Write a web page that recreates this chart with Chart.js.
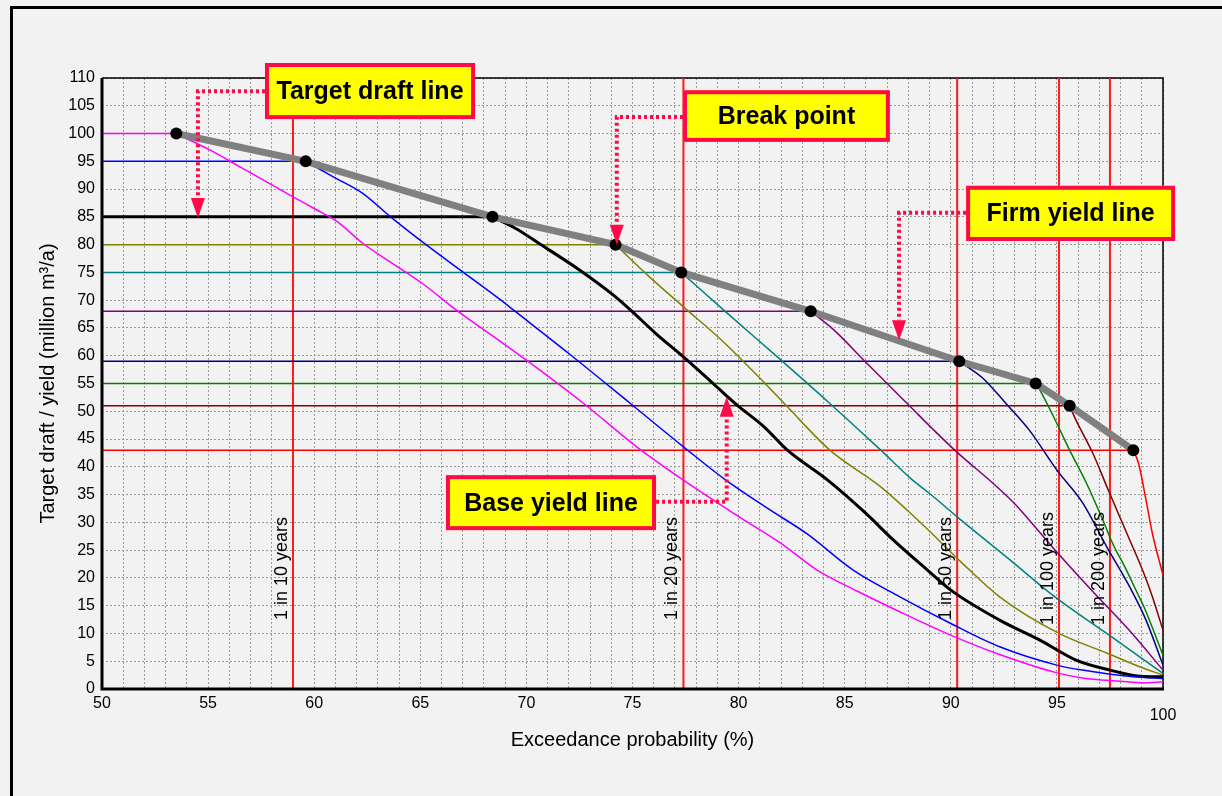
<!DOCTYPE html>
<html>
<head>
<meta charset="utf-8">
<title>Yield curves</title>
<script src="https://cdn.jsdelivr.net/npm/chart.js@4.4.1/dist/chart.umd.min.js"></script>
<style>
  html, body { margin: 0; padding: 0; background: #f2f2f2; overflow: hidden; }
  #frame { position: absolute; left: 10px; top: 6px; width: 1400px; height: 1000px;
           border-left: 3px solid #000; border-top: 3px solid #000; }
  #wrap { position: absolute; left: 0; top: 0; width: 1222px; height: 796px; }
</style>
</head>
<body>
<div id="frame"></div>
<div id="wrap"><canvas id="yieldChart" width="1222" height="796"></canvas></div>
<script>
// target drafts (million m3/a) and the exceedance probability where each breaks off
const drafts = [100, 95, 85, 80, 75, 68, 59, 55, 51, 43];
const breakProb = [53.5, 59.6, 68.4, 74.2, 77.3, 83.4, 90.4, 94.0, 95.6, 98.6];

// falling part of each curve after its break point
const prob100 = [55.1, 56.5, 57.9, 59.0, 60.0, 61.1, 62.3, 63.7, 65.1, 66.7, 68.8, 70.0, 72.7, 75.2, 77.4, 80.1, 82.0, 83.7, 85.6, 87.6, 90.3, 92.3, 95.0, 96.2, 98.0, 99.1, 100];
const yield100 = [97.0, 94.0, 91.0, 88.6, 86.5, 84.1, 80.2, 76.6, 73.0, 68.2, 62.5, 59.2, 51.4, 43.6, 37.6, 30.8, 26.2, 21.4, 17.6, 13.9, 9.2, 6.2, 2.9, 2.0, 1.4, 1.1, 1.3];

const prob95 = [60.9, 62.3, 63.6, 65.3, 67.0, 68.8, 69.4, 72.0, 74.9, 77.4, 79.4, 81.5, 83.2, 85.4, 87.6, 90.0, 92.3, 95.0, 96.2, 98.6, 100];
const yield95 = [92.2, 89.2, 85.0, 79.9, 75.1, 70.0, 68.2, 60.4, 51.4, 43.6, 37.6, 32.2, 28.0, 21.4, 16.6, 11.8, 7.6, 4.3, 3.4, 2.2, 1.9];

const prob85 = [69.5, 70.6, 72.4, 74.1, 75.0, 76.1, 77.4, 78.8, 79.9, 81.2, 82.3, 84.2, 86.0, 87.3, 88.9, 90.0, 92.3, 94.2, 95.9, 97.5, 98.9, 100];
const yield85 = [82.9, 80.2, 75.7, 70.9, 67.9, 64.0, 59.8, 55.0, 51.2, 47.2, 43.0, 37.6, 31.6, 26.8, 21.4, 17.8, 12.4, 8.8, 5.2, 3.4, 2.3, 2.2];

const prob80 = [75.8, 77.4, 79.2, 81.1, 82.3, 84.3, 86.7, 88.0, 89.0, 90.5, 92.3, 95.1, 97.4, 98.9, 100];
const yield80 = [74.2, 68.8, 62.8, 55.6, 50.8, 43.0, 36.4, 32.0, 28.4, 22.8, 16.6, 10.0, 6.4, 4.0, 2.5];

const prob75 = [79.3, 82.0, 84.3, 86.7, 88.2, 89.0, 90.3, 92.8, 95.0, 97.35, 98.9, 100];
const yield75 = [68.2, 59.2, 51.4, 43.0, 37.6, 35.2, 31.0, 23.2, 16.3, 10.0, 5.8, 2.8];

const prob68 = [84.5, 85.9, 87.0, 88.1, 89.2, 90.3, 92.0, 93.0, 93.7, 95.1, 96.7, 98.4, 100];
const yield68 = [64.6, 59.2, 55.0, 50.8, 46.6, 42.6, 37.0, 33.4, 30.4, 24.2, 17.5, 10.6, 3.4];

const prob59 = [91.5, 92.6, 93.7, 95.0, 96.2, 97.35, 98.4, 99.2, 100];
const yield59 = [56.0, 51.4, 46.6, 39.4, 33.6, 25.6, 18.6, 12.4, 4.3];

const prob55 = [94.2, 95.0, 95.6, 96.4, 97.1, 97.7, 98.2, 98.8, 99.1, 100];
const yield55 = [53.8, 47.8, 43.0, 37.0, 31.0, 25.6, 22.0, 17.2, 14.8, 6.1];

const prob51 = [95.9, 96.7, 97.4, 98.3, 99.1, 99.5, 100];
const yield51 = [48.4, 42.4, 36.0, 28.0, 20.8, 16.6, 10.6];

const prob43 = [98.85, 99.2, 99.5, 100];
const yield43 = [40.6, 34.0, 28.0, 20.5];

// return period markers
const rpProb = [59.0, 77.4, 90.3, 95.1, 97.5];
const rpLabels = ["1 in 10 years", "1 in 20 years", "1 in 50 years", "1 in 100 years", "1 in 200 years"];

const tailProbs = [prob100, prob95, prob85, prob80, prob75, prob68, prob59, prob55, prob51, prob43];
const tailYields = [yield100, yield95, yield85, yield80, yield75, yield68, yield59, yield55, yield51, yield43];
const curveColors = ["#ff00ff", "#0000ff", "#000000", "#808000", "#008080", "#800080", "#000080", "#008000", "#800000", "#ff0000"];

const xMin = 50, xMax = 100, yMin = 0, yMax = 110;
const fontFamily = '"Liberation Sans", Arial, Helvetica, sans-serif';
const noteRed = "#ff0a48";

// callout boxes, in axis units
const notes = [
  { text: "Target draft line", box: [57.68, 67.58, 112.7, 102.6], side: "left", bend: [54.52, 107.6], tip: 84.8 },
  { text: "Break point", box: [77.38, 87.13, 107.8, 98.5], side: "left", bend: [74.26, 103.0], tip: 80.0 },
  { text: "Firm yield line", box: [90.72, 100.57, 90.6, 80.65], side: "left", bend: [87.56, 85.75], tip: 62.8 },
  { text: "Base yield line", box: [66.21, 76.11, 38.5, 28.6], side: "right", bend: [79.44, 33.7], tip: 52.6 },
];

const datasets = [];

// firm yield line through the break points
datasets.push({
  data: breakProb.map((p, i) => ({ x: p, y: drafts[i] })),
  borderColor: "#808080",
  borderWidth: 7,
  pointRadius: 6,
  pointBackgroundColor: "#000",
  pointBorderWidth: 0,
  order: 0,
});

drafts.forEach((d, i) => {
  // flat part up to the break point
  datasets.push({
    data: [{ x: xMin, y: d }, { x: breakProb[i], y: d }],
    borderColor: curveColors[i],
    borderWidth: d === 85 ? 3 : 1.5,
    pointRadius: 0,
    order: 1,
  });
  // falling part, smoothed
  const pts = [{ x: breakProb[i], y: d }];
  tailProbs[i].forEach((p, j) => pts.push({ x: p, y: tailYields[i][j] }));
  datasets.push({
    data: pts,
    borderColor: curveColors[i],
    borderWidth: d === 85 ? 3 : 1.5,
    pointRadius: 0,
    cubicInterpolationMode: "monotone",
    order: 1,
  });
});

rpProb.forEach((p) => {
  datasets.push({
    data: [{ x: p, y: yMin }, { x: p, y: yMax }],
    borderColor: "#ff1a1a",
    borderWidth: 2,
    pointRadius: 0,
    order: 2,
  });
});

// plot frame: heavy left/bottom, thin top/right
const framePlugin = {
  id: "frame",
  beforeDatasetsDraw(chart) {
    const { ctx, chartArea: a } = chart;
    ctx.save();
    ctx.strokeStyle = "#000";
    ctx.lineWidth = 1.5;
    ctx.beginPath();
    ctx.moveTo(a.left, a.top);
    ctx.lineTo(a.right, a.top);
    ctx.lineTo(a.right, a.bottom);
    ctx.stroke();
    ctx.restore();
  },
  afterDatasetsDraw(chart) {
    const { ctx, chartArea: a } = chart;
    ctx.save();
    ctx.strokeStyle = "#000";
    ctx.lineWidth = 3;
    ctx.beginPath();
    ctx.moveTo(a.left, a.top);
    ctx.lineTo(a.left, a.bottom);
    ctx.lineTo(a.right + 1, a.bottom);
    ctx.stroke();
    ctx.restore();
  },
};

// rotated "1 in N years" labels beside the red lines
const rpLabelPlugin = {
  id: "rpLabels",
  afterDatasetsDraw(chart) {
    const { ctx } = chart;
    const xs = chart.scales.x, ys = chart.scales.y;
    ctx.save();
    ctx.fillStyle = "#000";
    ctx.font = "18px " + fontFamily;
    ctx.textAlign = "center";
    ctx.textBaseline = "bottom";
    rpProb.forEach((p, i) => {
      ctx.save();
      ctx.translate(xs.getPixelForValue(p) - 2, ys.getPixelForValue(21.7));
      ctx.rotate(-Math.PI / 2);
      ctx.fillText(rpLabels[i], 0, 0);
      ctx.restore();
    });
    ctx.restore();
  },
};

// yellow callouts with dotted arrows
const notePlugin = {
  id: "notes",
  afterDraw(chart) {
    const { ctx } = chart;
    const xs = chart.scales.x, ys = chart.scales.y;
    notes.forEach((n) => {
      const x0 = xs.getPixelForValue(n.box[0]);
      const x1 = xs.getPixelForValue(n.box[1]);
      const y0 = ys.getPixelForValue(n.box[2]);
      const y1 = ys.getPixelForValue(n.box[3]);
      const bx = xs.getPixelForValue(n.bend[0]);
      const by = ys.getPixelForValue(n.bend[1]);
      const ty = ys.getPixelForValue(n.tip);
      const dir = ty > by ? 1 : -1;
      const headLen = 20;
      const startX = n.side === "left" ? x0 : x1;

      ctx.save();
      ctx.strokeStyle = noteRed;
      ctx.lineWidth = 4;
      ctx.setLineDash([3, 3]);
      ctx.beginPath();
      ctx.moveTo(startX, by);
      ctx.lineTo(bx, by);
      ctx.lineTo(bx, ty - dir * headLen);
      ctx.stroke();
      ctx.setLineDash([]);
      ctx.fillStyle = noteRed;
      ctx.beginPath();
      ctx.moveTo(bx - 7, ty - dir * headLen);
      ctx.lineTo(bx + 7, ty - dir * headLen);
      ctx.lineTo(bx, ty);
      ctx.closePath();
      ctx.fill();

      ctx.fillStyle = "#ffff00";
      ctx.fillRect(x0, y0, x1 - x0, y1 - y0);
      ctx.lineWidth = 4;
      ctx.strokeRect(x0 + 2, y0 + 2, x1 - x0 - 4, y1 - y0 - 4);
      ctx.fillStyle = "#000";
      ctx.font = "bold 25px " + fontFamily;
      ctx.textAlign = "center";
      ctx.textBaseline = "middle";
      ctx.fillText(n.text, (x0 + x1) / 2, (y0 + y1) / 2 + 1);
      ctx.restore();
    });
  },
};

const ctx = document.getElementById("yieldChart");
new Chart(ctx, {
  type: "line",
  data: { datasets: datasets },
  options: {
    responsive: false,
    animation: false,
    layout: { padding: { left: 10, top: 78, right: 59, bottom: 0 } },
    elements: { line: { tension: 0, fill: false } },
    plugins: {
      legend: { display: false },
      tooltip: { enabled: false },
    },
    scales: {
      x: {
        type: "linear",
        min: xMin,
        max: xMax,
        afterFit: (scale) => { scale.height = 107; },
        ticks: {
          stepSize: 1,
          autoSkip: false,
          maxRotation: 0,
          color: "#000",
          padding: 5,
          font: (c) => ({
            family: fontFamily,
            size: 16,
            lineHeight: c.tick && Math.round(c.tick.value) === 100 ? 0.88 : 1.2,
          }),
          callback: (v) => {
            const r = Math.round(v);
            if (r % 5 !== 0) return "";
            return r === 100 ? ["", "100"] : String(r);
          },
        },
        grid: { color: "#9a9a9a", lineWidth: 1, drawTicks: false },
        border: { display: false, dash: [2, 2] },
        title: {
          display: true,
          text: "Exceedance probability (%)",
          color: "#000",
          font: { family: fontFamily, size: 20 },
          padding: { top: 0, bottom: 44 },
        },
      },
      y: {
        min: yMin,
        max: yMax,
        afterFit: (scale) => { scale.width = 92; },
        ticks: {
          stepSize: 5,
          color: "#000",
          padding: 7,
          font: { family: fontFamily, size: 16 },
        },
        grid: { color: "#9a9a9a", lineWidth: 1, drawTicks: false },
        border: { display: false, dash: [2, 2] },
        title: {
          display: true,
          text: "Target draft / yield (million m³/a)",
          color: "#000",
          font: { family: fontFamily, size: 20 },
          padding: { top: 26, bottom: 0 },
        },
      },
    },
  },
  plugins: [framePlugin, rpLabelPlugin, notePlugin],
});
</script>
</body>
</html>
